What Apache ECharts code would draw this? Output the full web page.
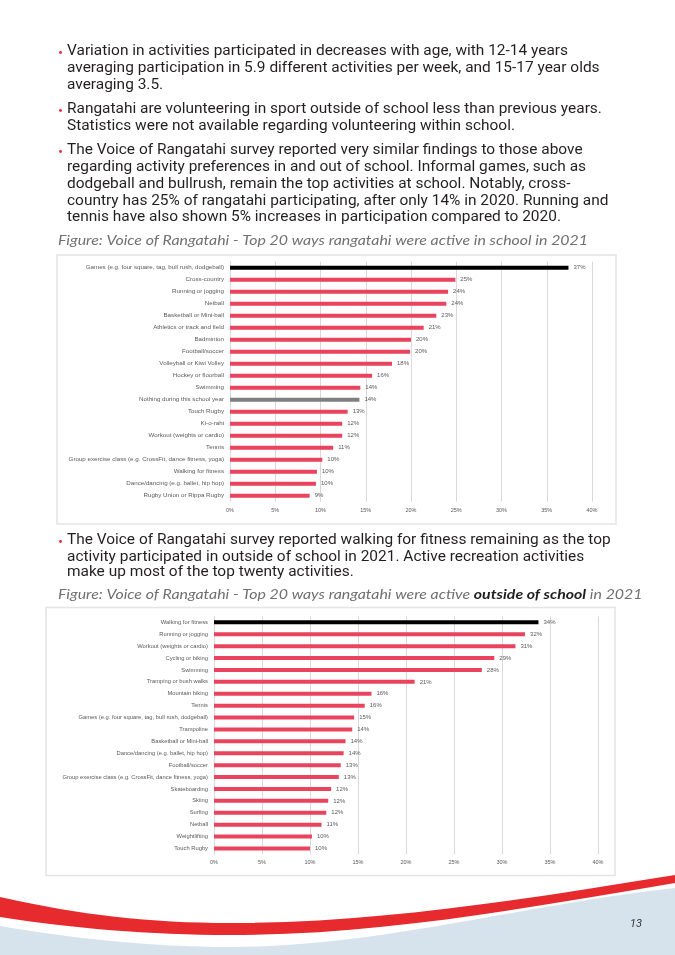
<!DOCTYPE html>
<html><head><meta charset="utf-8">
<script src="https://cdn.jsdelivr.net/npm/echarts@6/dist/echarts.min.js"></script>
<style>
html,body{margin:0;padding:0;background:#fff;}
#wrap{position:relative;width:675px;height:955px;overflow:hidden;background:#fff;}
#deco{position:absolute;left:0;top:0;}
#chart{position:absolute;left:0;top:0;width:675px;height:955px;}
</style>
</head><body>
<div id="wrap">
<svg id="deco" width="675" height="955" viewBox="0 0 675 955">
  <path d="M0,926 C70,938 150,947 230,947 C380,947 520,905 675,888 L675,955 L0,955 Z" fill="#D6E3EC"/>
  <path d="M0,897 C80,915 150,923 230,923 C380,923 520,900 675,875 L675,883 C520,909 380,935 230,935 C150,935 70,928 0,917 Z" fill="#E62A2E"/>
</svg>
<div id="chart"></div>
</div>
<script>
// ---------- data ----------
const schoolCategories = [
  'Games (e.g. four square, tag, bull rush, dodgeball)', 'Cross-country', 'Running or jogging', 'Netball',
  'Basketball or Mini-ball', 'Athletics or track and field', 'Badminton', 'Football/soccer',
  'Volleyball or Kiwi Volley', 'Hockey or floorball', 'Swimming', 'Nothing during this school year',
  'Touch Rugby', 'Ki-o-rahi', 'Workout (weights or cardio)', 'Tennis',
  'Group exercise class (e.g. CrossFit, dance fitness, yoga)', 'Walking for fitness',
  'Dance/dancing (e.g. ballet, hip hop)', 'Rugby Union or Rippa Rugby'
];
const schoolValues = [37.4, 24.9, 24.1, 23.9, 22.8, 21.4, 20.0, 19.9, 17.9, 15.7, 14.4, 14.3, 13.0, 12.4, 12.4, 11.4, 10.2, 9.6, 9.5, 8.8];

const outsideCategories = [
  'Walking for fitness', 'Running or jogging', 'Workout (weights or cardio)', 'Cycling or biking',
  'Swimming', 'Tramping or bush walks', 'Mountain biking', 'Tennis',
  'Games (e.g. four square, tag, bull rush, dodgeball)', 'Trampoline', 'Basketball or Mini-ball',
  'Dance/dancing (e.g. ballet, hip hop)', 'Football/soccer',
  'Group exercise class (e.g. CrossFit, dance fitness, yoga)', 'Skateboarding', 'Skiing',
  'Surfing', 'Netball', 'Weightlifting', 'Touch Rugby'
];
const outsideValues = [33.8, 32.4, 31.4, 29.2, 27.9, 20.9, 16.4, 15.7, 14.6, 14.4, 13.7, 13.5, 13.2, 13.0, 12.2, 11.9, 11.7, 11.2, 10.2, 10.0];

const axisMin = 0, axisMax = 40, axisStep = 5;

const bodyLines = [
  [51, 'Variation in activities participated in decreases with age, with 12-14 years', true],
  [68, 'averaging participation in 5.9 different activities per week, and 15-17 year olds'],
  [85, 'averaging 3.5.'],
  [109, 'Rangatahi are volunteering in sport outside of school less than previous years.', true],
  [126.5, 'Statistics were not available regarding volunteering within school.'],
  [150, 'The Voice of Rangatahi survey reported very similar findings to those above', true],
  [167, 'regarding activity preferences in and out of school. Informal games, such as'],
  [184, 'dodgeball and bullrush, remain the top activities at school. Notably, cross-'],
  [201, 'country has 25% of rangatahi participating, after only 14% in 2020. Running and'],
  [217.5, 'tennis have also shown 5% increases in participation compared to 2020.'],
  [540, 'The Voice of Rangatahi survey reported walking for fitness remaining as the top', true],
  [556.7, 'activity participated in outside of school in 2021. Active recreation activities'],
  [572.5, 'make up most of the top twenty activities.']
];
const caption1 = 'Figure: Voice of Rangatahi - Top 20 ways rangatahi were active in school in 2021';
const caption2a = 'Figure: Voice of Rangatahi - Top 20 ways rangatahi were active ';
const caption2b = 'outside of school';
const caption2c = ' in 2021';

// ---------- layout helpers ----------
const BODY_FONT = 'Roboto';
const BODY_SIZE = 15.5;
const CAP_FONT = 'Lato';
const ctx = document.createElement('canvas').getContext('2d');
ctx.font = BODY_SIZE + 'px ' + BODY_FONT;
const bodyScale = 501 / ctx.measureText(bodyLines[0][1]).width;
ctx.font = 'italic 14px ' + CAP_FONT;
const capScale = 530 / ctx.measureText(caption1).width;

const RED = '#E9435E';
const graphics = [];
graphics.push({type:'rect', silent:true, shape:{x:57, y:255, width:559, height:269}, style:{fill:'none', stroke:'#e4e4e4', lineWidth:1.5}});
graphics.push({type:'rect', silent:true, shape:{x:46, y:607.5, width:569, height:268}, style:{fill:'none', stroke:'#e4e4e4', lineWidth:1.5}});
bodyLines.forEach(function (l) {
  if (l[2]) graphics.push({type:'circle', silent:true, shape:{cx:60.5, cy:l[0] + 1.5, r:1.4}, style:{fill:'#E62A2E'}});
  graphics.push({type:'text', silent:true, x:67, y:l[0], scaleX:bodyScale,
    style:{text:l[1], fontSize:BODY_SIZE, fontFamily:BODY_FONT, fill:'#231F20', verticalAlign:'middle', align:'left'}});
});
graphics.push({type:'text', silent:true, x:58, y:240, scaleX:capScale,
  style:{text:caption1, fontSize:14, fontStyle:'italic', fontFamily:CAP_FONT, fill:'#707070', verticalAlign:'middle'}});
graphics.push({type:'text', silent:true, x:58, y:594, scaleX:capScale,
  style:{text:caption2a + '{b|' + caption2b + '}' + caption2c, fontSize:14, fontStyle:'italic', fontFamily:CAP_FONT, fill:'#707070', verticalAlign:'middle',
    rich:{b:{fontSize:14, fontStyle:'italic', fontWeight:'bold', fontFamily:CAP_FONT, fill:'#1F1F1F'}}}});
graphics.push({type:'text', silent:true, x:636, y:924,
  style:{text:'13', fontSize:11, fontStyle:'italic', fontFamily:'Roboto', fill:'#333', align:'center', verticalAlign:'middle'}});

function barColor(cats) {
  return function (p) {
    if (p.dataIndex === 0) return '#000000';
    if (cats[p.dataIndex] === 'Nothing during this school year') return '#7F7F7F';
    return RED;
  };
}
function xAx(idx, margin) {
  return {type:'value', gridIndex:idx, min:axisMin, max:axisMax, interval:axisStep,
    axisLine:{show:false}, axisTick:{show:false},
    splitLine:{lineStyle:{color:'#D9D9D9', width:1}},
    axisLabel:{formatter:'{value}%', fontSize:5.5, color:'#595959', fontFamily:'Liberation Sans', margin:margin}};
}
function yAx(idx, cats, fs) {
  return {type:'category', gridIndex:idx, data:cats, inverse:true,
    axisLine:{show:true, lineStyle:{color:'#D9D9D9', width:1}}, axisTick:{show:false},
    axisLabel:{fontSize:fs, color:'#595959', fontFamily:'Liberation Sans', margin:6}};
}
function barSeries(idx, cats, vals) {
  return {type:'bar', xAxisIndex:idx, yAxisIndex:idx, data:vals, barWidth:4, silent:true,
    itemStyle:{color:barColor(cats)},
    label:{show:true, position:'right', distance:5, fontSize:6, color:'#595959', fontFamily:'Liberation Sans',
      formatter:function (p) { return Math.round(p.value) + '%'; }}};
}

const chart = echarts.init(document.getElementById('chart'), null, {renderer:'canvas'});
chart.setOption({
  backgroundColor:'transparent',
  animation:false,
  grid:[
    {left:230, top:261.7, width:362, height:240},
    {left:214, top:616.4, width:384, height:238}
  ],
  xAxis:[xAx(0, 6), xAx(1, 5)],
  yAxis:[yAx(0, schoolCategories, 6.2), yAx(1, outsideCategories, 5.8)],
  series:[barSeries(0, schoolCategories, schoolValues), barSeries(1, outsideCategories, outsideValues)],
  graphic:{elements:graphics}
});
</script>
</body></html>
